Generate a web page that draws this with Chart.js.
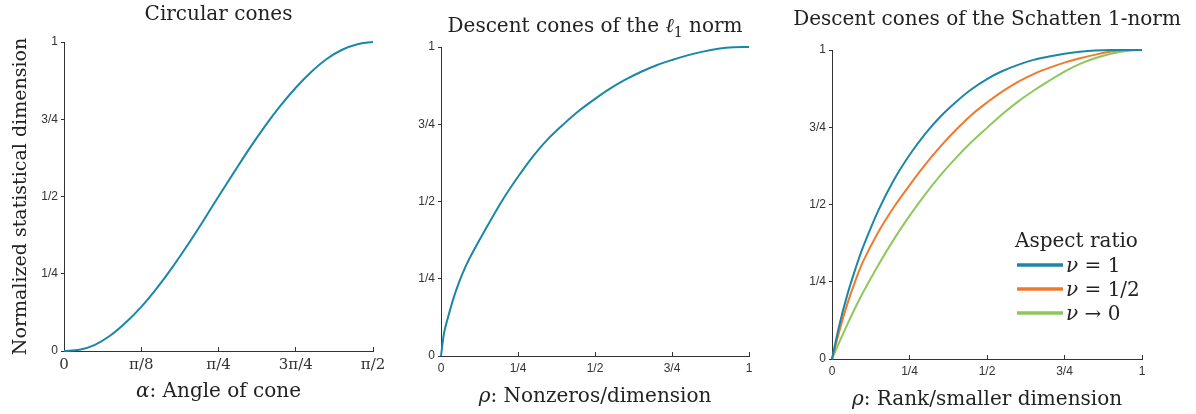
<!DOCTYPE html>
<html>
<head>
<meta charset="utf-8">
<script src="https://cdn.jsdelivr.net/npm/chart.js@4.4.1/dist/chart.umd.min.js"></script>
<style>
  html, body { margin: 0; padding: 0; background: #fff; }
  #wrap { position: relative; width: 1196px; height: 414px; }
  #wrap canvas { position: absolute; left: 0; top: 0; }
</style>
</head>
<body>
<div id="wrap">
  <canvas id="chartCircular" width="1196" height="414"></canvas>
  <canvas id="chartL1" width="1196" height="414"></canvas>
  <canvas id="chartSchatten" width="1196" height="414"></canvas>
</div>
<script>
// tick labels
const yTickLabels = ['0', '1/4', '1/2', '3/4', '1'];
const angleTickLabels = ['0', 'π/8', 'π/4', '3π/4', 'π/2'];
const fracTickLabels = ['0', '1/4', '1/2', '3/4', '1'];

// circular cones (angle given as a fraction of pi/2)
const circAngle = [0, 0.05, 0.1, 0.15, 0.2, 0.25, 0.3, 0.35, 0.4, 0.45, 0.5, 0.55, 0.6, 0.65, 0.7, 0.75, 0.8, 0.85, 0.9, 0.95, 1];
const circDim = [0, 0.004, 0.02, 0.05, 0.092, 0.143, 0.203, 0.27, 0.343, 0.42, 0.5, 0.578, 0.655, 0.727, 0.793, 0.852, 0.903, 0.945, 0.975, 0.993, 1];

// l1 norm descent cones
const l1Rho = [0, 0.01, 0.02, 0.04, 0.06, 0.08, 0.1, 0.15, 0.2, 0.25, 0.3, 0.35, 0.4, 0.45, 0.5, 0.55, 0.6, 0.65, 0.7, 0.75, 0.8, 0.85, 0.9, 0.95, 1];
const l1Dim = [0, 0.075, 0.115, 0.185, 0.242, 0.29, 0.33, 0.42, 0.505, 0.58, 0.648, 0.705, 0.752, 0.795, 0.832, 0.866, 0.895, 0.92, 0.941, 0.958, 0.973, 0.985, 0.994, 0.999, 1];

// Schatten 1-norm descent cones
const schRho = [0, 0.025, 0.05, 0.075, 0.1, 0.15, 0.2, 0.25, 0.3, 0.35, 0.4, 0.45, 0.5, 0.55, 0.6, 0.65, 0.7, 0.75, 0.8, 0.85, 0.9, 0.95, 1];
const schNu1 = [0, 0.115, 0.21, 0.29, 0.362, 0.482, 0.58, 0.66, 0.728, 0.785, 0.832, 0.873, 0.906, 0.932, 0.952, 0.968, 0.979, 0.988, 0.994, 0.998, 1, 1, 1];
const schNuHalf = [0, 0.095, 0.18, 0.252, 0.315, 0.412, 0.492, 0.562, 0.628, 0.688, 0.742, 0.79, 0.83, 0.866, 0.897, 0.922, 0.942, 0.959, 0.973, 0.985, 0.995, 1, 1];
const schNu0 = [0, 0.058, 0.113, 0.166, 0.215, 0.305, 0.388, 0.463, 0.532, 0.595, 0.651, 0.702, 0.748, 0.793, 0.833, 0.868, 0.9, 0.93, 0.955, 0.974, 0.988, 0.997, 1];
const schLabels = ['ν = 1', 'ν = 1/2', 'ν → 0'];

const blue = '#1b87a6';
const orange = '#f07a2c';
const green = '#8ec85a';
const ink = '#222';
const serif = '"DejaVu Serif", "Liberation Serif", serif';

function pts(xs, ys) {
  return xs.map((x, i) => ({ x: x, y: ys[i] }));
}

function runFont(r, size) {
  const sz = r[1] === 's' ? Math.round(size * 0.7) : size;
  return (r[1] === 'i' ? 'italic ' : '') + sz + 'px ' + serif;
}

// draws a line of text made of runs: [text, ''|'i'|'s']
function drawRuns(ctx, runs, x, y, size, align) {
  let w = 0;
  runs.forEach(r => { ctx.font = runFont(r, size); w += ctx.measureText(r[0]).width; });
  let cx = align === 'left' ? x : x - w / 2;
  ctx.textAlign = 'left';
  ctx.textBaseline = 'alphabetic';
  runs.forEach(r => {
    ctx.font = runFont(r, size);
    ctx.fillText(r[0], cx, y + (r[1] === 's' ? size * 0.25 : 0));
    cx += ctx.measureText(r[0]).width;
  });
}

const panelText = {
  id: 'panelText',
  afterDraw(chart, args, opts) {
    const ctx = chart.ctx;
    const area = chart.chartArea;
    const mid = (area.left + area.right) / 2;
    ctx.save();
    ctx.fillStyle = ink;
    if (opts.title) drawRuns(ctx, opts.title, mid, opts.titleY, 20);
    if (opts.xlabel) drawRuns(ctx, opts.xlabel, mid, area.bottom + 46, 20);
    if (opts.ylabel) {
      ctx.translate(26, (area.top + area.bottom) / 2);
      ctx.rotate(-Math.PI / 2);
      drawRuns(ctx, [[opts.ylabel, '']], 0, 0, 19);
      ctx.setTransform(1, 0, 0, 1, 0, 0);
    }
    if (opts.legend) {
      const lg = opts.legend;
      drawRuns(ctx, [[lg.title, '']], lg.x - 2, lg.y - 18, 20, 'left');
      chart.data.datasets.forEach((ds, i) => {
        const yy = lg.y + i * 24;
        ctx.strokeStyle = ds.borderColor;
        ctx.lineWidth = 3.5;
        ctx.beginPath();
        ctx.moveTo(lg.x, yy);
        ctx.lineTo(lg.x + 46, yy);
        ctx.stroke();
        const parts = ds.label.split(' ');
        drawRuns(ctx, [[parts[0], 'i'], [' ' + parts.slice(1).join(' '), '']], lg.x + 49, yy + 7, 20, 'left');
      });
    }
    ctx.restore();
  }
};

function panelOptions(area, xTickLabels, xTickFont, text) {
  return {
    responsive: false,
    animation: false,
    events: [],
    layout: { padding: { left: area.l - 30, right: 1196 - area.r, top: area.t, bottom: 414 - area.b - 30 } },
    elements: { point: { radius: 0 }, line: { borderWidth: 2, tension: 0.35 } },
    plugins: { legend: { display: false }, tooltip: { enabled: false }, panelText: text },
    scales: {
      x: {
        type: 'linear', min: 0, max: 1,
        afterFit: s => { s.height = 30; },
        ticks: { stepSize: 0.25, autoSkip: false, maxRotation: 0, padding: 9, color: '#333', font: xTickFont,
                 callback: (v, i) => xTickLabels[i] },
        grid: { drawOnChartArea: false, tickLength: -4, color: '#333' },
        border: { color: '#333', width: 1 }
      },
      y: {
        type: 'linear', min: 0, max: 1,
        afterFit: s => { s.width = 30; },
        ticks: { stepSize: 0.25, padding: 3, color: '#333', font: { family: '"Liberation Sans", Arial, sans-serif', size: 12 },
                 callback: (v, i) => yTickLabels[i] },
        grid: { drawOnChartArea: false, tickLength: 3, color: '#333' },
        border: { color: '#333', width: 1 }
      }
    }
  };
}

const sansTicks = { family: '"Liberation Sans", Arial, sans-serif', size: 12 };

// Circular cones
new Chart(document.getElementById('chartCircular').getContext('2d'), {
  type: 'line',
  data: { datasets: [{ label: 'circular', data: pts(circAngle, circDim), borderColor: blue, clip: 4 }] },
  options: panelOptions({ l: 64, r: 373, t: 42, b: 351 }, angleTickLabels, { family: serif, size: 15 }, {
    title: [['Circular cones', '']], titleY: 20,
    xlabel: [['α', 'i'], [': Angle of cone', '']],
    ylabel: 'Normalized statistical dimension'
  }),
  plugins: [panelText]
});

// Descent cones of the l1 norm
new Chart(document.getElementById('chartL1').getContext('2d'), {
  type: 'line',
  data: { datasets: [{ label: 'l1', data: pts(l1Rho, l1Dim), borderColor: blue, clip: 4 }] },
  options: panelOptions({ l: 441, r: 749, t: 47, b: 356 }, fracTickLabels, sansTicks, {
    title: [['Descent cones of the ', ''], ['ℓ', 'i'], ['1', 's'], [' norm', '']], titleY: 32,
    xlabel: [['ρ', 'i'], [': Nonzeros/dimension', '']]
  }),
  plugins: [panelText]
});

// Descent cones of the Schatten 1-norm
new Chart(document.getElementById('chartSchatten').getContext('2d'), {
  type: 'line',
  data: {
    datasets: [
      { label: schLabels[0], data: pts(schRho, schNu1), borderColor: blue, clip: 4 },
      { label: schLabels[1], data: pts(schRho, schNuHalf), borderColor: orange, clip: 4 },
      { label: schLabels[2], data: pts(schRho, schNu0), borderColor: green, clip: 4 }
    ]
  },
  options: panelOptions({ l: 832, r: 1142, t: 50, b: 359 }, fracTickLabels, sansTicks, {
    title: [['Descent cones of the Schatten 1-norm', '']], titleY: 25,
    xlabel: [['ρ', 'i'], [': Rank/smaller dimension', '']],
    legend: { title: 'Aspect ratio', x: 1017, y: 265 }
  }),
  plugins: [panelText]
});
</script>
</body>
</html>
